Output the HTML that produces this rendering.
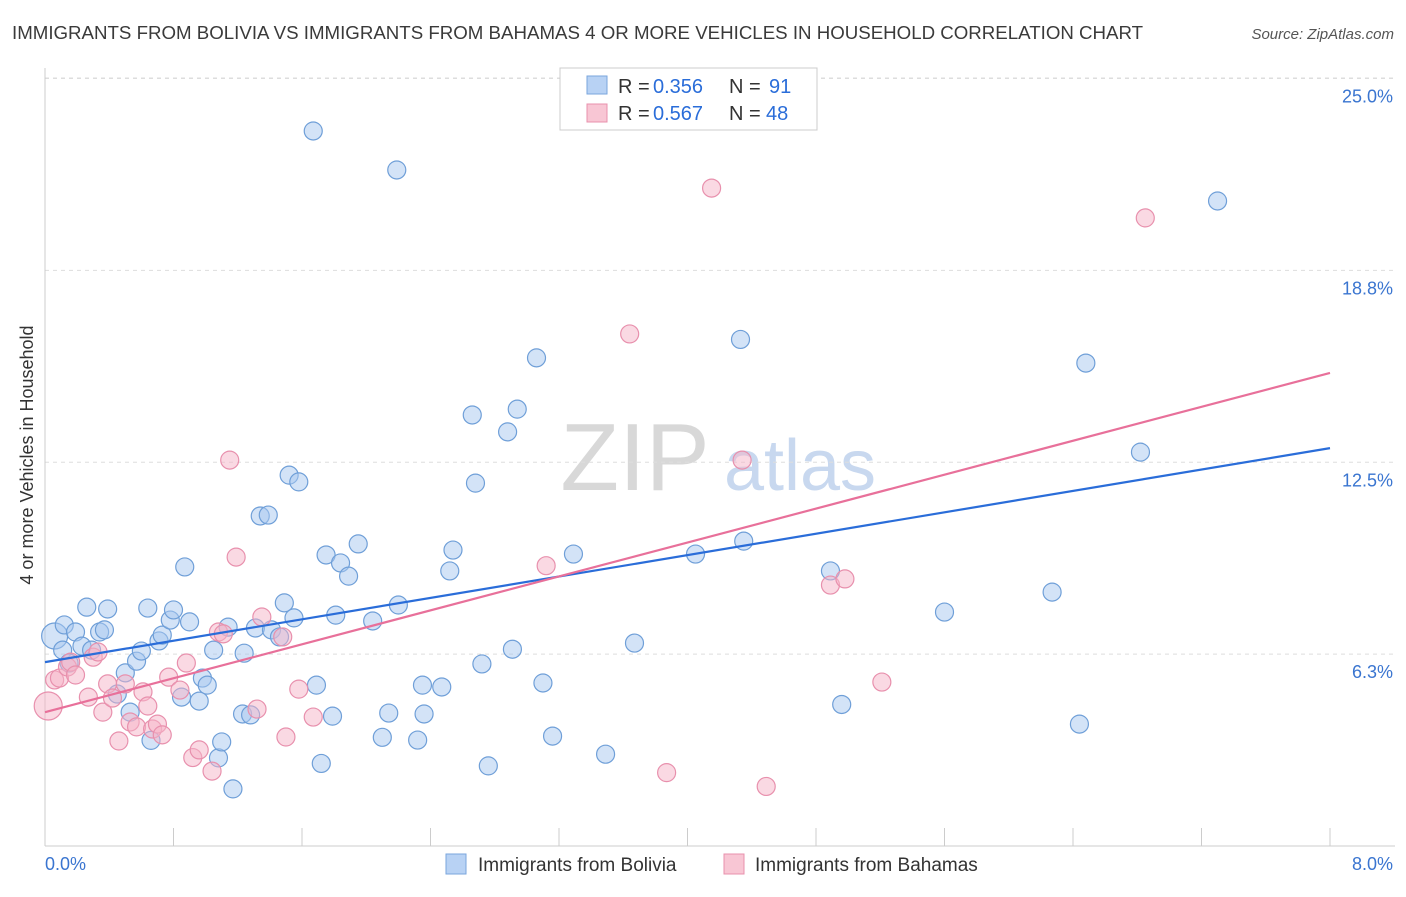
<!DOCTYPE html>
<html><head><meta charset="utf-8">
<style>
body{margin:0;background:#fff;font-family:"Liberation Sans",sans-serif;}
svg text{font-family:"Liberation Sans",sans-serif;}
</style></head>
<body>
<svg id="chart" width="1406" height="892" viewBox="0 0 1406 892" xmlns="http://www.w3.org/2000/svg">
<text x="12" y="39" font-size="18.7" fill="#3a3a3a">IMMIGRANTS FROM BOLIVIA VS IMMIGRANTS FROM BAHAMAS 4 OR MORE VEHICLES IN HOUSEHOLD CORRELATION CHART</text>
<text x="1394" y="39" font-size="15" fill="#555" text-anchor="end" font-style="italic">Source: ZipAtlas.com</text>
<text transform="translate(33,455) rotate(-90)" font-size="18" fill="#333" text-anchor="middle">4 or more Vehicles in Household</text>
<g>
<text x="635" y="490" font-size="96" fill="#d8d8d8" text-anchor="middle" font-family="Liberation Serif">ZIP</text>
<text x="800" y="490" font-size="72" fill="#c8d8ef" text-anchor="middle">atlas</text>
</g>
<g id="grid"></g>
<g id="axes"></g>
<g id="points"></g>
<g id="lines"></g>
<g>
<rect x="560" y="68" width="257" height="62" fill="#fff" stroke="#ccc"/>
<rect x="587" y="76" width="20" height="18" fill="#b8d2f4" stroke="#7aa6dd"/>
<text x="618" y="93" font-size="20" fill="#333">R =</text>
<text x="653" y="93" font-size="20" fill="#2a6dd9">0.356</text>
<text x="729" y="93" font-size="20" fill="#333">N =</text>
<text x="769" y="93" font-size="20" fill="#2a6dd9">91</text>
<rect x="587" y="104" width="20" height="18" fill="#f8c6d4" stroke="#e890ad"/>
<text x="618" y="120" font-size="20" fill="#333">R =</text>
<text x="653" y="120" font-size="20" fill="#2a6dd9">0.567</text>
<text x="729" y="120" font-size="20" fill="#333">N =</text>
<text x="766" y="120" font-size="20" fill="#2a6dd9">48</text>
</g>
<g>
<rect x="446" y="854" width="20" height="20" fill="#b8d2f4" stroke="#7aa6dd"/>
<text x="478" y="871" font-size="19" fill="#333">Immigrants from Bolivia</text>
<rect x="724" y="854" width="20" height="20" fill="#f8c6d4" stroke="#e890ad"/>
<text x="755" y="871" font-size="19" fill="#333">Immigrants from Bahamas</text>
</g>
</svg>
<script>
const yTicks=[6.25,12.5,18.75,25];
const yTickLabels=["6.3%","12.5%","18.8%","25.0%"];
const xTickVals=[0,0.8,1.6,2.4,3.2,4.0,4.8,5.6,6.4,7.2,8.0];
const boliviaX=[0.06,0.11,0.12,0.19,0.15,0.23,0.26,0.29,0.34,0.37,0.39,0.45,0.50,0.53,0.57,0.60,0.64,0.66,0.71,0.73,0.78,0.80,0.85,0.87,0.90,0.96,0.98,1.01,1.05,1.08,1.10,1.14,1.17,1.23,1.24,1.28,1.31,1.34,1.39,1.41,1.46,1.49,1.52,1.55,1.58,1.69,1.72,1.67,1.75,1.79,1.81,1.84,1.89,1.95,2.04,2.10,2.14,2.19,2.20,2.32,2.35,2.36,2.47,2.52,2.54,2.66,2.68,2.72,2.76,2.88,2.91,2.94,3.06,3.10,3.16,3.29,3.49,3.67,4.05,4.33,4.35,4.89,4.96,5.60,6.27,6.44,6.48,6.82,7.30];
const boliviaY=[6.84,6.38,7.20,6.97,5.96,6.51,7.78,6.38,6.97,7.04,7.72,4.95,5.64,4.36,6.02,6.35,7.75,3.44,6.68,6.87,7.36,7.69,4.85,9.09,7.30,4.72,5.47,5.24,6.38,2.87,3.39,7.13,1.86,4.30,6.28,4.27,7.10,10.75,10.78,7.04,6.81,7.92,12.08,7.43,11.86,5.24,2.69,23.29,9.48,4.23,7.52,9.22,8.79,9.84,7.33,3.54,4.33,22.02,7.85,3.45,5.24,4.30,5.18,8.96,9.64,14.04,11.82,5.93,2.61,13.49,6.41,14.23,15.90,5.31,3.58,9.51,2.99,6.61,9.51,16.50,9.93,8.96,4.61,7.62,8.27,3.97,15.73,12.83,21.01];
const bahamasX=[0.02,0.06,0.09,0.14,0.16,0.19,0.27,0.30,0.33,0.36,0.39,0.42,0.46,0.50,0.53,0.57,0.61,0.64,0.67,0.70,0.73,0.77,0.84,0.88,0.92,0.96,1.04,1.08,1.11,1.15,1.19,1.32,1.35,1.48,1.50,1.58,1.67,3.12,3.64,3.87,4.15,4.34,4.49,4.89,4.98,5.21,6.85];
const bahamasY=[4.56,5.41,5.47,5.83,5.99,5.57,4.85,6.15,6.32,4.36,5.28,4.82,3.42,5.28,4.04,3.88,5.02,4.56,3.81,3.97,3.62,5.50,5.08,5.96,2.88,3.13,2.44,6.97,6.91,12.57,9.41,4.46,7.46,6.81,3.55,5.11,4.20,9.13,16.68,2.39,21.43,12.57,1.94,8.50,8.70,5.34,20.46];
const boliviaTrend=[5.99,12.96];
const bahamasTrend=[4.36,15.41];
const NS="http://www.w3.org/2000/svg";
const X0=45,X1=1330,Y0=846;
function sx(v){return X0+v*(X1-X0)/8;}
function sy(v){return Y0-v*30.7;}
function mk(t,a){const e=document.createElementNS(NS,t);for(const k in a)e.setAttribute(k,a[k]);return e;}
const grid=document.getElementById('grid'),axes=document.getElementById('axes');
const topGrid=mk('line',{x1:X0,x2:1395,y1:78,y2:78,stroke:'#ddd','stroke-dasharray':'4,4'});


grid.appendChild(topGrid);
yTicks.forEach((v,i)=>{
 const l=mk('line',{x1:X0,x2:1395,y1:sy(v),y2:sy(v),stroke:'#ddd','stroke-dasharray':'4,4'});
 
 
 grid.appendChild(l);
 const t=mk('text',{x:1393,y:sy(v)+24,'font-size':18,fill:'#3a75d0','text-anchor':'end'});
 t.textContent=yTickLabels[i];
 
 
 axes.appendChild(t);
});
const xa=mk('line',{x1:X0,x2:1395,y1:Y0,y2:Y0,stroke:'#ccc'});


axes.appendChild(xa);
const ya=mk('line',{x1:X0,x2:X0,y1:68,y2:Y0,stroke:'#ccc'});


axes.appendChild(ya);
xTickVals.forEach(v=>{
 const l=mk('line',{x1:sx(v),x2:sx(v),y1:Y0,y2:Y0-18,stroke:'#ccc'});
 
 
 axes.appendChild(l);
});
[["0.0%",45,'start'],["8.0%",1393,'end']].forEach(a=>{
 const t=mk('text',{x:a[1],y:870,'font-size':18,fill:'#3a75d0','text-anchor':a[2]});
 t.textContent=a[0];
 
 
 axes.appendChild(t);
});
const pts=document.getElementById('points');
function drawPts(xs,ys,fill,stroke,name){
 xs.forEach((x,i)=>{
  const r=(i===0)?(name==='bolivia-point'?13:14):9;
  const c=mk('circle',{cx:sx(x),cy:sy(ys[i]),r:r,fill:fill,'fill-opacity':0.5,stroke:stroke,'stroke-width':1.2});
  
  
  pts.appendChild(c);
 });
}
drawPts(boliviaX,boliviaY,'#a8c8f0','#6f9fd8','bolivia-point');
drawPts(bahamasX,bahamasY,'#f6b4c8','#e890ad','bahamas-point');
const lines=document.getElementById('lines');
function trend(tr,col,name){
 const l=mk('line',{x1:sx(0),y1:sy(tr[0]),x2:sx(8),y2:sy(tr[1]),stroke:col,'stroke-width':2.2});
 
 
 lines.appendChild(l);
}
trend(boliviaTrend,'#2a6dd9','bolivia-trendline');
trend(bahamasTrend,'#e8709a','bahamas-trendline');
</script>
</body></html>
